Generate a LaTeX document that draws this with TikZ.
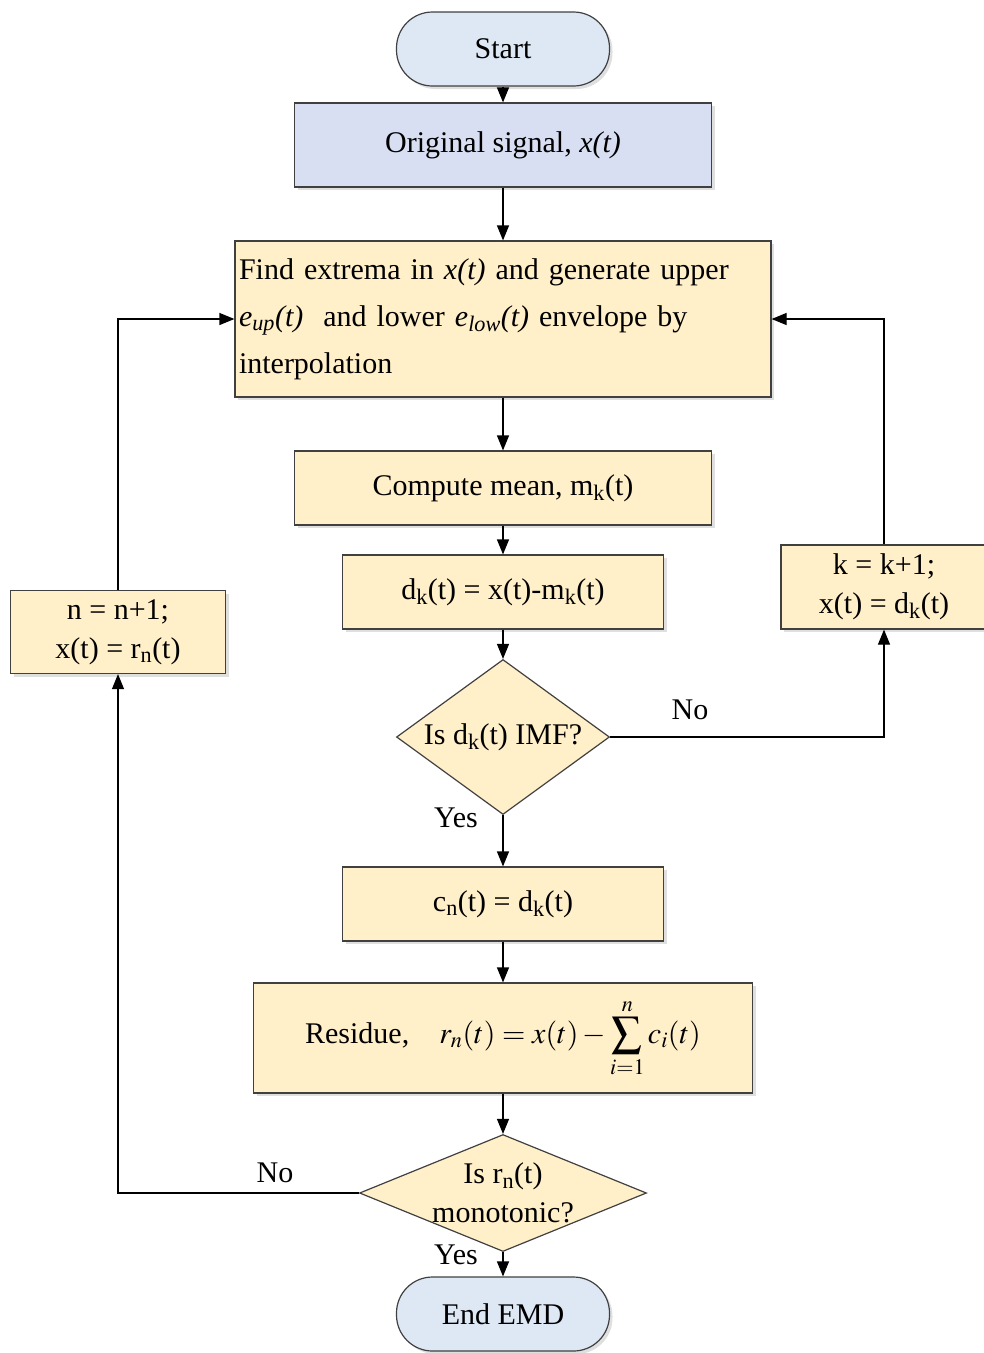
\documentclass[tikz,border=0pt]{standalone}
\usepackage{mathptmx}
\usepackage{fontspec}
\setmainfont{Liberation Serif}
\usetikzlibrary{arrows.meta,shapes.geometric,shadows}
\definecolor{startblue}{HTML}{DEE8F5}
\definecolor{signalblue}{HTML}{D9DFF3}
\definecolor{boxyellow}{HTML}{FFF0C9}

\begin{document}
\begin{tikzpicture}[x=1pt,y=-1pt,
    font=\fontsize{30}{39}\selectfont,
    boxshadow/.style={drop shadow={shadow xshift=3pt,shadow yshift=-3pt,opacity=0.25}},
    terminal/.style={draw=black!75,line width=1.2pt,fill=startblue,rounded corners=36pt,
      minimum width=213pt,minimum height=74pt,inner sep=0pt,boxshadow},
    procbox/.style={draw=black!75,line width=1.2pt,fill=boxyellow,inner sep=0pt,
      align=center,boxshadow},
    decision/.style={diamond,draw=black!75,line width=1.2pt,fill=boxyellow,inner sep=0pt},
    flow/.style={-{Triangle[length=15pt,width=12pt]},line width=1.2pt},
    answer/.style={inner sep=0pt}]
  \useasboundingbox (0,0) rectangle (984,1353);

  % main column
  \node[terminal] (start) at (503,49) {Start};
  \node[procbox,fill=signalblue,minimum width=417pt,minimum height=84pt] (signal) at (503,145)
    {Original signal, \textit{x(t)}};
  \node[procbox,minimum width=536pt,minimum height=156pt,text width=528pt,align=left,
    font=\fontsize{30}{47}\selectfont] (extrema) at (503,319)
    {Find extrema in \textit{x(t)} and generate upper\\
     \textit{e\textsubscript{up}(t)}\ \ and lower \textit{e\textsubscript{low}(t)} envelope by\\
     interpolation};
  \node[procbox,minimum width=417pt,minimum height=74pt] (mean) at (503,488)
    {Compute mean, m\textsubscript{k}(t)};
  \node[procbox,minimum width=321pt,minimum height=74pt] (diff) at (503,592)
    {d\textsubscript{k}(t) = x(t)-m\textsubscript{k}(t)};
  \node[decision,minimum width=213pt,minimum height=155pt,
    label=center:{Is d\textsubscript{k}(t) IMF?}] (imf) at (503,737) {};
  \node[procbox,minimum width=321pt,minimum height=74pt] (cn) at (503,904)
    {c\textsubscript{n}(t) = d\textsubscript{k}(t)};
  \node[procbox,minimum width=499pt,minimum height=110pt] (residue) at (503,1038)
    {Residue,\quad $r_n(t)=x(t)-\displaystyle\sum_{i=1}^{n}c_i(t)$};
  \node[decision,minimum width=287pt,minimum height=117pt,
    label={[align=center]center:{Is r\textsubscript{n}(t)\\monotonic?}}] (mono) at (503,1193) {};
  \node[terminal] (finish) at (503,1314) {End EMD};

  % side boxes
  \node[procbox,minimum width=206pt,minimum height=84pt] (kbox) at (884,587)
    {k = k+1;\\x(t) = d\textsubscript{k}(t)};
  \node[procbox,minimum width=215pt,minimum height=83pt] (nbox) at (118,632)
    {n = n+1;\\x(t) = r\textsubscript{n}(t)};

  % connectors
  \draw[flow] (start) -- (signal);
  \draw[flow] (signal) -- (extrema);
  \draw[flow] (extrema) -- (mean);
  \draw[flow] (mean) -- (diff);
  \draw[flow] (diff) -- (imf);
  \draw[flow] (imf) -- (cn);
  \draw[flow] (imf.east) -| (kbox.south);
  \draw[flow] (kbox.north) |- (extrema.east);
  \draw[flow] (cn) -- (residue);
  \draw[flow] (residue) -- (mono);
  \draw[flow] (mono) -- (finish);
  \draw[flow] (mono.west) -| (nbox.south);
  \draw[flow] (nbox.north) |- (extrema.west);

  % answers
  \node[answer] (imfno) at (690,710) {No};
  \node[answer] (imfyes) at (456,818) {Yes};
  \node[answer] (monono) at (275,1173) {No};
  \node[answer] (monoyes) at (456,1255) {Yes};
\end{tikzpicture}
\end{document}
